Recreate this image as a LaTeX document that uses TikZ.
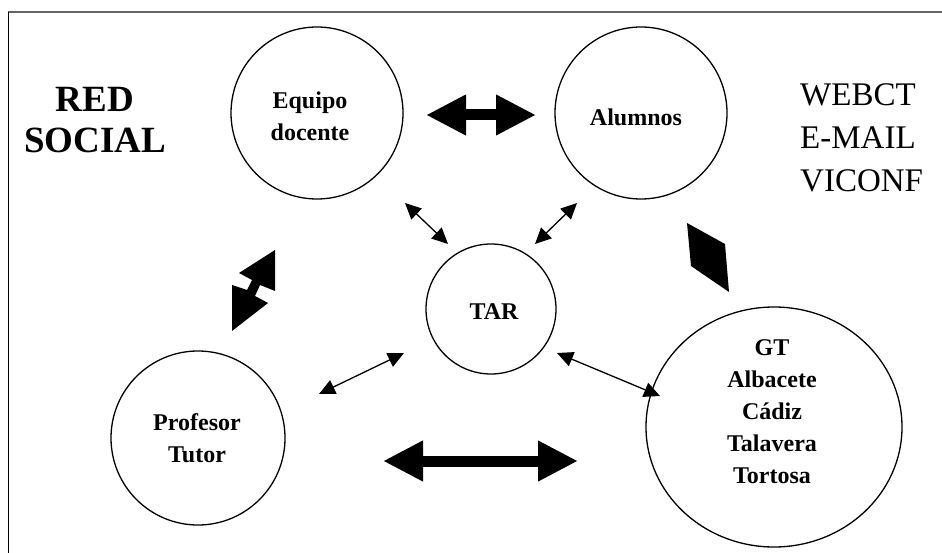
\documentclass[tikz,border=0pt]{standalone}
\usepackage{fontspec}
\setmainfont{Liberation Serif}
\usetikzlibrary{arrows.meta,shapes.geometric}
\begin{document}
\begin{tikzpicture}[x=1pt,y=-1pt,
  circ/.style={circle, draw, line width=1.3pt, minimum size=#1, inner sep=0pt},
  lbl/.style={font=\bfseries\fontsize{24}{32}\selectfont, align=center, inner sep=0pt},
  big/.style={font=\fontsize{33}{43}\selectfont, align=left, inner sep=0pt},
  bigb/.style={font=\bfseries\fontsize{37}{41}\selectfont, align=center, inner sep=0pt},
  thinarrow/.style={line width=1.3pt, {Triangle[length=16pt,width=15pt]}-{Triangle[length=16pt,width=15pt]}},
  fatarrow/.style={line width=11pt, {Triangle[length=40pt,width=38pt]}-{Triangle[length=40pt,width=38pt]}, shorten <=-1pt, shorten >=-1pt}]
\useasboundingbox (0,0) rectangle (942,553);
% frame
\draw[gray!120, line width=2pt] (8,12.5) -- (942,12.5);
\draw[black, line width=1pt] (8,12) -- (8,553);
% circles
\node[circ=172pt] (eqc) at (317,113) {};
\node[circ=172pt] (alc) at (641,113) {};
\node[circ=130pt] (tarc) at (491,309) {};
\node[circ=174pt] (prc) at (198,438) {};
\node[ellipse, draw, line width=1.3pt, minimum width=256pt, minimum height=240pt, inner sep=0pt] (gtc) at (774,427) {};
% texts
\node[lbl] (eqt) at (310,116) {Equipo\\docente};
\node[lbl] (alt) at (636,117) {Alumnos};
\node[lbl] (tart) at (494,312) {TAR};
\node[lbl] (prt) at (197,438) {Profesor\\Tutor};
\node[lbl] (gtt) at (772,412) {GT\\Albacete\\Cádiz\\Talavera\\Tortosa};
\node[bigb] (red) at (95,120) {RED\\SOCIAL};
\node[big, anchor=north west] (web) at (800,83) {WEBCT\\E-MAIL\\VICONF};
% connector end points
\coordinate (a1) at (405,203); \coordinate (a2) at (448,244);
\coordinate (b1) at (577,203); \coordinate (b2) at (535,244);
\coordinate (c1) at (404,353); \coordinate (c2) at (319,394);
\coordinate (d1) at (557,353); \coordinate (d2) at (660,396);
\coordinate (e1) at (427,115); \coordinate (e2) at (535,115);
\coordinate (f1) at (384,461); \coordinate (f2) at (577,461);
% thin arrows
\draw[thinarrow] (a1) -- (a2);
\draw[thinarrow] (b1) -- (b2);
\draw[thinarrow] (c1) -- (c2);
\draw[thinarrow] (d1) -- (d2);
% fat arrows
\draw[fatarrow] (e1) -- (e2);
\draw[fatarrow] (f1) -- (f2);
% left oblique arrow
\fill (275,250) -- (239,273) -- (252,280) -- (247,290) -- (232,285) -- (232,331) -- (268,303) -- (255,296) -- (260,285) -- (275,291) -- cycle;
% squashed arrow at right
\fill (687,223) -- (725,244) -- (729,292) -- (691,266) -- cycle;
\end{tikzpicture}
\end{document}
